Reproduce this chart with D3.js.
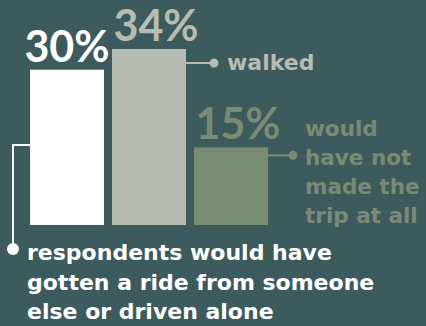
<!DOCTYPE html>
<html>
<head>
<meta charset="utf-8">
<script src="https://cdn.jsdelivr.net/npm/d3@7"></script>
<style>
  html, body { margin: 0; padding: 0; background: #3d5a5d; }
  svg { display: block; }
  .pct { font-family: Lato, 'Open Sans', sans-serif; font-weight: 700; }
  .note { font-family: 'DejaVu Sans', 'Open Sans', sans-serif; font-weight: 700; }
</style>
</head>
<body>
<div id="chart"></div>
<script>
'use strict';

const W = 426, H = 326;

// chart data
const categories = ['ride', 'walked', 'notrip'];
const values = [30, 34, 15];
const pctLabels = ['30%', '34%', '15%'];
const colors = ['#ffffff', '#b6bcb1', '#7a8b74'];
const walkedLines = ['walked'];
const noTripLines = ['would', 'have not', 'made the', 'trip at all'];
const rideLines = ['respondents would have', 'gotten a ride from someone', 'else or driven alone'];

const svg = d3.select('#chart').append('svg')
  .attr('width', W)
  .attr('height', H);

svg.append('rect')
  .attr('width', W)
  .attr('height', H)
  .attr('fill', '#3d5a5d');

const x = d3.scaleBand()
  .domain(categories)
  .range([30, 268])
  .paddingInner(0.0976)
  .paddingOuter(0);

const y = d3.scaleLinear()
  .domain([0, 34])
  .range([225, 49]);

// bars
svg.selectAll('.bar')
    .data(values)
  .enter().append('rect')
    .attr('class', 'bar')
    .attr('x', (d, i) => x(categories[i]))
    .attr('y', d => y(d))
    .attr('width', x.bandwidth())
    .attr('height', d => y(0) - y(d))
    .attr('fill', (d, i) => colors[i]);

// percent labels above the bars
const pctShift = [0, 7, 7];
svg.selectAll('.pct')
    .data(values)
  .enter().append('text')
    .attr('class', 'pct')
    .attr('x', (d, i) => x(categories[i]) + x.bandwidth() / 2 + pctShift[i])
    .attr('y', d => y(d) - 8)
    .attr('text-anchor', 'middle')
    .attr('font-size', 43)
    .attr('fill', (d, i) => colors[i])
    .text((d, i) => pctLabels[i]);

// walked callout
const wx = x('walked') + x.bandwidth();
const wy = y(values[1]) + 14;
svg.append('line')
  .attr('x1', wx).attr('x2', 213)
  .attr('y1', wy).attr('y2', wy)
  .attr('stroke', colors[1]).attr('stroke-width', 2);
svg.append('circle')
  .attr('cx', 214).attr('cy', wy).attr('r', 4.5)
  .attr('fill', colors[1]);
svg.append('text')
  .attr('class', 'note')
  .attr('x', 227).attr('y', wy + 7)
  .attr('font-size', 22)
  .attr('fill', colors[1])
  .text(walkedLines[0]);

// no trip callout
const nx = x('notrip') + x.bandwidth();
const ny = y(values[2]) + 8;
svg.append('line')
  .attr('x1', nx).attr('x2', 293)
  .attr('y1', ny).attr('y2', ny)
  .attr('stroke', colors[2]).attr('stroke-width', 2);
svg.append('circle')
  .attr('cx', 293).attr('cy', ny).attr('r', 4.5)
  .attr('fill', colors[2]);
svg.append('text')
  .attr('class', 'note')
  .attr('font-size', 21.5)
  .attr('fill', colors[2])
  .selectAll('tspan')
    .data(noTripLines)
  .enter().append('tspan')
    .attr('x', 305)
    .attr('y', (d, i) => 136 + i * 29)
    .text(d => d);

// ride callout (bracket from bar 1 down to text)
const rx = x('ride');
const ry = 145;
svg.append('path')
  .attr('d', 'M' + rx + ',' + ry + 'H13V249')
  .attr('fill', 'none')
  .attr('stroke', colors[0]).attr('stroke-width', 2);
svg.append('circle')
  .attr('cx', 13).attr('cy', 249).attr('r', 6)
  .attr('fill', colors[0]);
svg.append('text')
  .attr('class', 'note')
  .attr('font-size', 22)
  .attr('fill', colors[0])
  .selectAll('tspan')
    .data(rideLines)
  .enter().append('tspan')
    .attr('x', 27)
    .attr('y', (d, i) => 260 + i * 29.5)
    .text(d => d);
</script>
</body>
</html>
